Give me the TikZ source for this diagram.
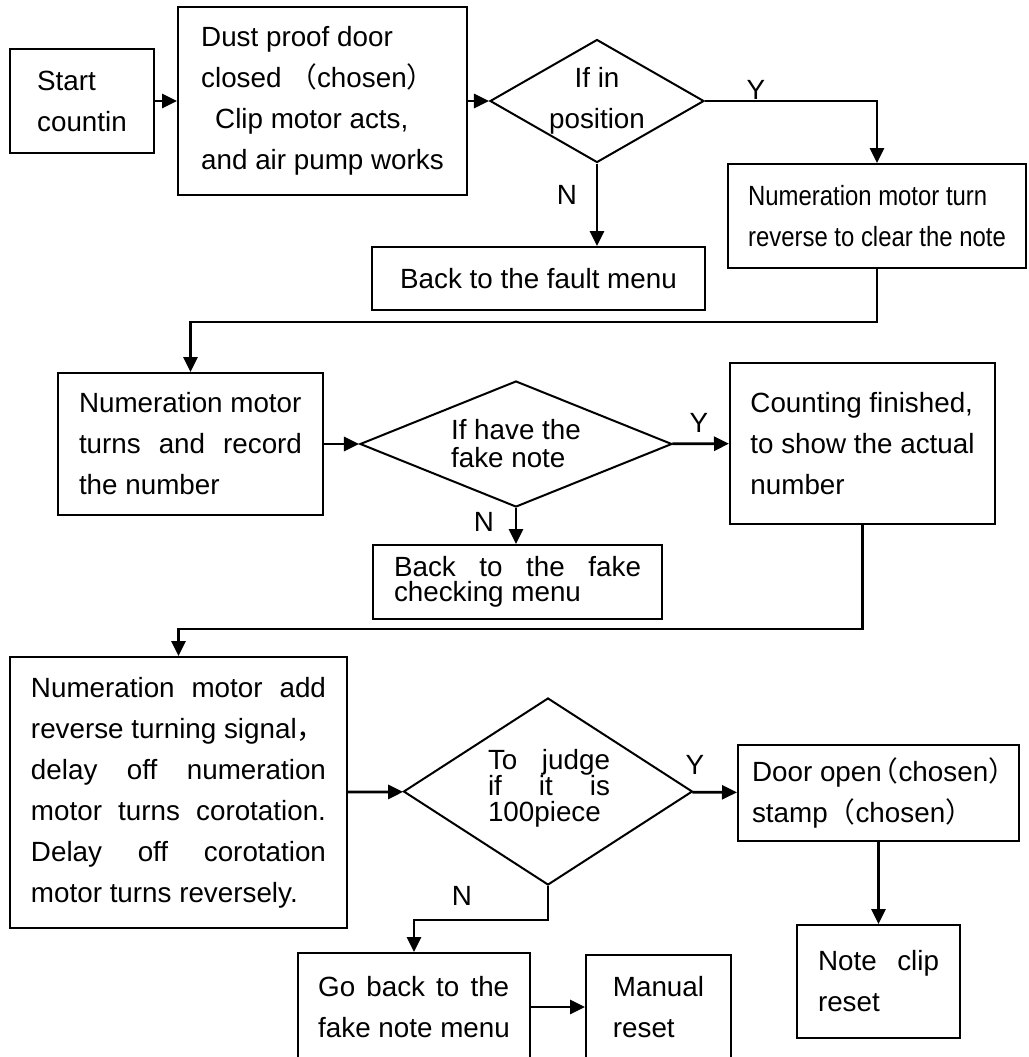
\documentclass[tikz,border=0pt]{standalone}
\usepackage{fontspec}
\setmainfont{Liberation Sans}
\newfontfamily\cjk{Noto Sans CJK SC}
\newfontfamily\narrow[FakeStretch=0.86]{Liberation Sans}
\usepackage{tikz}
\usetikzlibrary{
  arrows.meta,
  shapes.geometric,
  positioning
}
\newcommand{\fillline}[2]{\makebox[#1][s]{#2}}
\newcommand{\lp}{{\cjk\makebox[0.6em][r]{（}}}
\newcommand{\rp}{{\cjk\makebox[0.6em][l]{）}}}
\lineskiplimit=-10pt

\begin{document}
\begin{tikzpicture}[x=0.5pt,y=-0.5pt,
  every node/.style={font=\fontsize{13.9pt}{20.5pt}\selectfont},
  box/.style={draw,line width=1pt,rectangle,inner xsep=4pt,inner ysep=0pt,align=left},
  decide/.style={draw,diamond,line width=1pt,inner sep=0pt},
  dtext/.style={inner sep=0pt,align=left},
  flow/.style={line width=1.4pt,-{Triangle[length=7.5pt,width=7pt]}},
  yn/.style={inner sep=0pt}]
  \useasboundingbox (0,0) rectangle (1029,1057);
  \clip (0,0) rectangle (1029,1057);

  \node[box,minimum width=72pt,minimum height=52pt] (start) at (82,101) {Start\\countin};
  \node[box,minimum width=144.5pt,minimum height=94pt] (dust) at (322.5,101) {Dust proof door\\closed {\cjk （}chosen{\cjk ）}\\\hspace*{7pt}Clip motor acts,\\and air pump works};
  \node[decide,minimum width=107pt,minimum height=61.5pt] (q1) at (597,101) {};
  \node[dtext,align=center] (q1t) at (q1) {If in\\position};
  \node[box,minimum width=166.5pt,minimum height=31.5pt] (fault) at (538.5,278.5) {Back to the fault menu};
  \node[box,minimum width=149pt,minimum height=52pt,font=\narrow\fontsize{13.9pt}{20.5pt}\selectfont] (numturn) at (877,216) {Numeration motor turn\\reverse to clear the note};

  \node[box,minimum width=132.5pt,minimum height=71pt] (numrec) at (190.5,444) {Numeration motor\\\fillline{111.5pt}{turns and record}\\the number};
  \node[decide,minimum width=156pt,minimum height=63pt] (q2) at (516,444) {};
  \node[dtext,font=\fontsize{13.9pt}{14pt}\selectfont] (q2t) at (q2) {If have the\\fake note};
  \node[box,minimum width=144.5pt,minimum height=37pt,font=\fontsize{13.9pt}{12.5pt}\selectfont] (fake) at (517.5,582) {\fillline{123.5pt}{Back to the fake}\\checking menu};
  \node[box,minimum width=132.5pt,minimum height=80.5pt] (count) at (862.5,443.5) {Counting finished,\\to show the actual\\number};

  \node[box,minimum width=168.5pt,minimum height=135.5pt] (big) at (178.5,792.5) {\fillline{147.5pt}{Numeration motor add}\\reverse turning signal{\cjk ，}\\\fillline{147.5pt}{delay off numeration}\\\fillline{147.5pt}{motor turns corotation.}\\\fillline{147.5pt}{Delay off corotation}\\motor turns reversely.};
  \node[decide,minimum width=144.5pt,minimum height=93.5pt] (q3) at (548,791.5) {};
  \node[dtext,font=\fontsize{13.9pt}{13pt}\selectfont] (q3t) at (549,788) {\fillline{61pt}{To judge}\\\fillline{61pt}{if it is}\\100piece};
  \node[box,minimum width=140.5pt,minimum height=48pt] (door) at (878.5,793) {Door open\lp chosen\rp\\stamp{\cjk （}chosen{\cjk ）}};
  \node[box,minimum width=81.5pt,minimum height=56.5pt] (clip) at (878.5,981.5) {\fillline{60.5pt}{Note clip}\\reset};
  \node[box,minimum width=116pt,minimum height=54pt] (goback) at (414,1007) {\fillline{95.5pt}{Go back to the}\\fake note menu};
  \node[box,minimum width=72.5pt,minimum height=52pt] (manual) at (658.5,1007) {Manual\\reset};

  \node[yn] (y1) at (756,90) {Y};
  \node[yn] (n1) at (567,195) {N};
  \node[yn] (y2) at (699,423) {Y};
  \node[yn] (n2) at (484,522) {N};
  \node[yn] (y3) at (695,765) {Y};
  \node[yn] (n3) at (462,896) {N};

  \draw[flow] (start) -- (dust);
  \draw[flow] (dust) -- (q1);
  \draw[flow] (q1.east) -| (numturn.north);
  \draw[flow] (q1.south) -- (q1.south |- fault.north);
  \draw[flow] (numturn.south) -- ++(0,53) -| (numrec.north);
  \draw[flow] (numrec) -- (q2);
  \draw[flow] (q2) -- (count);
  \draw[flow] (q2.south) -- (q2.south |- fake.north);
  \draw[flow] (count.south) -- ++(0,104) -| (big.north);
  \draw[flow] (big) -- (q3);
  \draw[flow] (q3) -- (door);
  \draw[flow] (door.south) -- (door.south |- clip.north);
  \draw[flow] (q3.south) -- ++(0,34) -| (goback.north);
  \draw[flow] (goback) -- (manual);
\end{tikzpicture}
\end{document}
